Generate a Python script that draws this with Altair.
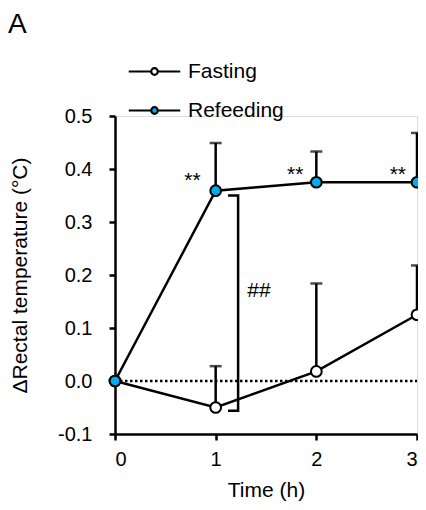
import altair as alt
import pandas as pd

# ---- data ----
times = [0, 1, 2, 3]
fasting_mean = [0.0, -0.050, 0.018, 0.125]
fasting_upper = [0.0, 0.028, 0.184, 0.218]
refeed_mean = [0.0, 0.359, 0.375, 0.375]
refeed_upper = [0.0, 0.449, 0.433, 0.468]
series_names = ["Fasting", "Refeeding"]
series_fill = ["white", "#00AEEF"]

star_x = [0.77, 1.79, 2.81]
star_y = [0.378, 0.389, 0.389]
star_text = ["**", "**", "**"]

bracket_x = [1.123, 1.223, 1.223, 1.123]
bracket_y = [0.350, 0.350, -0.056, -0.056]
hash_x = [1.43]
hash_y = [0.170]
hash_text = ["##"]

y_ticks = [-0.1, 0.0, 0.1, 0.2, 0.3, 0.4, 0.5]
x_ticks = [0, 1, 2, 3]

FONT = "Liberation Sans, Arial, Helvetica, sans-serif"

rows = []
for i, t in enumerate(times):
    rows.append({"time": t, "series": "Fasting", "mean": fasting_mean[i], "upper": fasting_upper[i]})
for i, t in enumerate(times):
    rows.append({"time": t, "series": "Refeeding", "mean": refeed_mean[i], "upper": refeed_upper[i]})
df = pd.DataFrame(rows)
df_err = df[df["upper"] > df["mean"]]

xscale = alt.Scale(domain=[0, 3], nice=False, zero=False)
yscale = alt.Scale(domain=[-0.1, 0.5], nice=False, zero=False)

xaxis = alt.Axis(values=x_ticks, title="Time (h)", format="d", grid=False,
                 domainColor="black", domainWidth=2.5, tickColor="black", tickWidth=2.5,
                 tickSize=6, labelFontSize=20, labelPadding=9, labelColor="black",
                 titleFontSize=21, titleFontWeight="normal", titlePadding=10,
                 titleColor="black", labelFont=FONT, titleFont=FONT)
yaxis = alt.Axis(values=y_ticks, title="ΔRectal temperature (°C)", format=".1f",
                 labelExpr="replace(datum.label, '−', '-')", grid=False,
                 domainColor="black", domainWidth=2.5, tickColor="black", tickWidth=2.5,
                 tickSize=6, labelFontSize=20, labelPadding=17, labelColor="black",
                 titleFontSize=21, titleFontWeight="normal", titlePadding=27,
                 titleColor="black", labelFont=FONT, titleFont=FONT)

X = alt.X("time:Q", scale=xscale, axis=xaxis)
Y = alt.Y("mean:Q", scale=yscale, axis=yaxis)

zero_df = pd.DataFrame({"x0": [0], "x1": [3], "y": [0.0]})
zero_line = alt.Chart(zero_df).mark_rule(color="black", strokeWidth=2.5, strokeDash=[2.5, 2.5]).encode(
    x=alt.X("x0:Q", scale=xscale, axis=xaxis), x2="x1:Q",
    y=alt.Y("y:Q", scale=yscale, axis=yaxis))

err_stem = alt.Chart(df_err).mark_rule(color="black", strokeWidth=2.5).encode(
    x=X, y=Y, y2="upper:Q")
err_cap = alt.Chart(df_err).mark_tick(color="black", thickness=2.5, size=12, orient="horizontal").encode(
    x=X, y=alt.Y("upper:Q", scale=yscale, axis=yaxis))

lines = alt.Chart(df).mark_line(color="black", strokeWidth=2.5).encode(
    x=X, y=Y, detail="series:N", order="time:Q")

bracket_df = pd.DataFrame({"x": bracket_x, "y": bracket_y, "o": [0, 1, 2, 3]})
bracket = alt.Chart(bracket_df).mark_line(color="black", strokeWidth=2.5, strokeJoin="miter").encode(
    x=alt.X("x:Q", scale=xscale, axis=xaxis), y=alt.Y("y:Q", scale=yscale, axis=yaxis), order="o:Q")

legend_path = ("M-4.91,0H-0.63 M0.63,0H4.91 "
               "M0.63,0A0.63,0.63 0 1,1 -0.63,0A0.63,0.63 0 1,1 0.63,0Z")
points = alt.Chart(df).mark_point(filled=True, size=115, stroke="black", strokeWidth=2, opacity=1).encode(
    x=X, y=Y,
    fill=alt.Fill("series:N", scale=alt.Scale(domain=series_names, range=series_fill),
                  legend=alt.Legend(title=None, orient="none", legendX=29, legendY=-55,
                                    symbolType=legend_path, symbolSize=110,
                                    symbolStrokeColor="black", symbolStrokeWidth=2.2,
                                    symbolOpacity=1,
                                    labelFontSize=21, labelFont=FONT, labelColor="black",
                                    labelOffset=23, rowPadding=17, padding=0)))

stars_df = pd.DataFrame({"x": star_x, "y": star_y, "t": star_text})
stars = alt.Chart(stars_df).mark_text(fontSize=21, font=FONT, color="black", baseline="middle").encode(
    x=alt.X("x:Q", scale=xscale, axis=xaxis), y=alt.Y("y:Q", scale=yscale, axis=yaxis), text="t:N")

hash_df = pd.DataFrame({"x": hash_x, "y": hash_y, "t": hash_text})
hashes = alt.Chart(hash_df).mark_text(fontSize=21, font=FONT, color="black", baseline="middle").encode(
    x=alt.X("x:Q", scale=xscale, axis=xaxis), y=alt.Y("y:Q", scale=yscale, axis=yaxis), text="t:N")

panel_df = pd.DataFrame({"t": ["A"]})
panel = alt.Chart(panel_df).mark_text(fontSize=28, font=FONT, color="black", align="left",
                                      baseline="alphabetic").encode(
    x=alt.value(-107), y=alt.value(-83), text="t:N")

chart = alt.layer(zero_line, err_stem, err_cap, lines, bracket, points, stars, hashes, panel).properties(
    width=302, height=318,
    autosize=alt.AutoSizeParams(type="none"),
    padding={"left": 107, "top": 108, "right": 1, "bottom": 68},
).configure_view(stroke=None).configure(background="white")

chart.save("out.html", embed_options={"renderer": "svg", "actions": False})
